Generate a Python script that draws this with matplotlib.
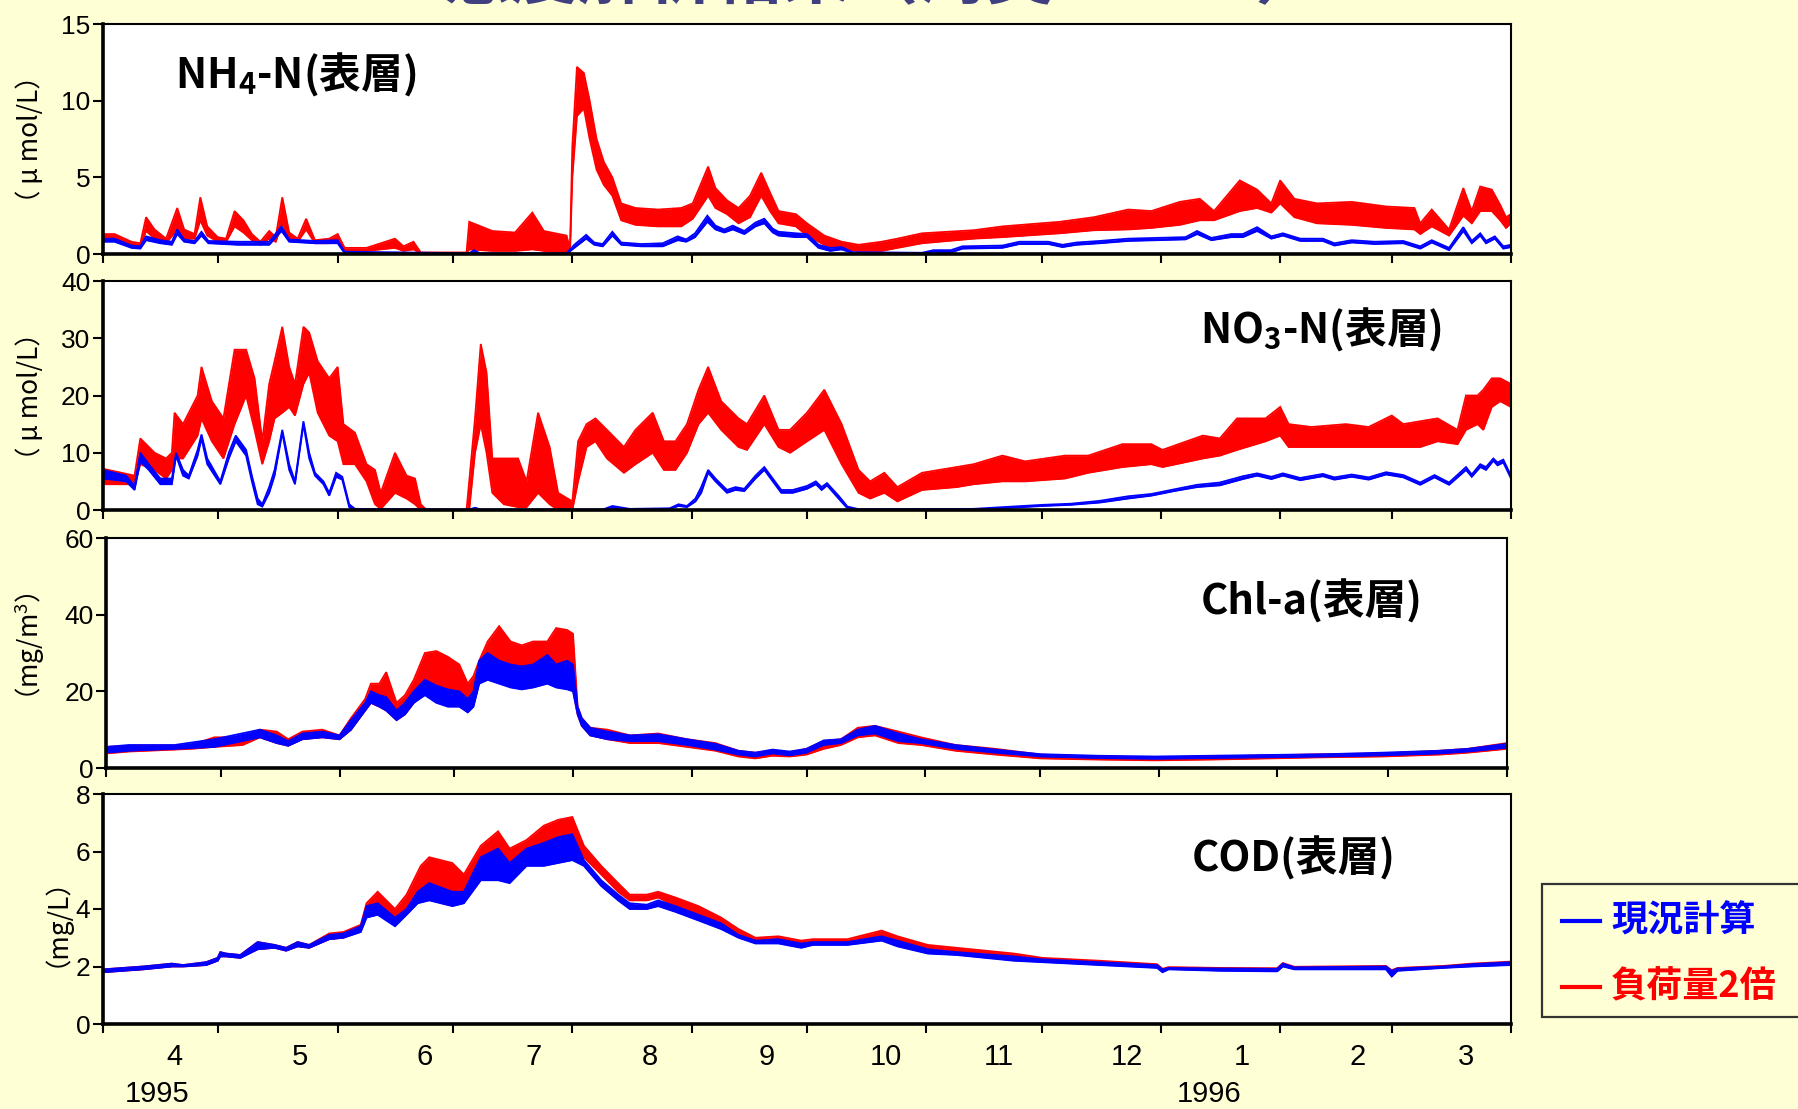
import matplotlib
matplotlib.use("Agg")
import matplotlib.pyplot as plt
from matplotlib.patches import Rectangle
from matplotlib.lines import Line2D
from matplotlib.transforms import blended_transform_factory

plt.rcParams['font.family'] = ['Liberation Sans', 'Noto Sans CJK JP', 'DejaVu Sans']
plt.rcParams['mathtext.default'] = 'regular'

W, H = 1798, 1109
BG = '#FFFFD5'
RED = '#FF0000'
BLUE = '#0000FF'

# days counted from 1995-04-01
month_ticks = [0, 30, 61, 91, 122, 153, 183, 214, 244, 275, 306, 335, 366]
month_label_pos = [18.5, 51.2, 83.7, 112, 142.2, 172.6, 203.5, 232.9, 266.2, 296.1, 326.2, 354.3]
month_labels = ['4', '5', '6', '7', '8', '9', '10', '11', '12', '1', '2', '3']
year_label_pos = [14.0, 287.5]
year_labels = ['1995', '1996']

title = '感度解析結果（湾奥・St.2）'
legend_labels = ['現況計算', '負荷量2倍']

# each row: (day, low, high) of the tidal band
nh4_now = [(0, 0.8, 1.0), (3.0, 0.8, 1.0), (7.4, 0.4, 0.55), (9.7, 0.35, 0.5), (11.2, 0.9, 1.15),
           (14.9, 0.7, 0.9), (17.9, 0.6, 0.8), (19.3, 1.3, 1.6), (21.1, 0.8, 0.95), (23.8, 0.7, 0.85),
           (25.6, 1.2, 1.45), (27.4, 0.7, 0.85), (35.0, 0.6, 0.8), (43.2, 0.6, 0.8), (46.4, 1.5, 1.8),
           (48.4, 0.8, 0.95), (55.1, 0.7, 0.85), (61.0, 0.7, 0.9), (62.8, 0.05, 0.15), (95.2, 0.0, 0.05),
           (96.4, 0.1, 0.25), (98.0, 0.0, 0.05), (120.5, 0.0, 0.05), (122.5, 0.4, 0.6), (125.6, 1.0, 1.25),
           (127.7, 0.6, 0.75), (129.9, 0.5, 0.65), (132.4, 1.2, 1.45), (134.7, 0.6, 0.75), (139.9, 0.5, 0.65),
           (145.5, 0.5, 0.7), (149.4, 0.9, 1.15), (151.6, 0.8, 0.95), (153.9, 1.1, 1.35), (157.1, 2.1, 2.5),
           (159.2, 1.6, 1.85), (161.5, 1.4, 1.6), (163.7, 1.6, 1.85), (166.7, 1.3, 1.5), (169.6, 1.8, 2.05),
           (171.9, 2.0, 2.3), (174.1, 1.4, 1.65), (175.6, 1.2, 1.45), (180.1, 1.1, 1.35), (183.0, 1.1, 1.3),
           (186.0, 0.4, 0.6), (189.0, 0.2, 0.4), (192.0, 0.3, 0.45), (194.9, 0.05, 0.12), (212.9, 0.0, 0.08),
           (215.9, 0.15, 0.25), (220.4, 0.1, 0.25), (223.4, 0.35, 0.5), (233.8, 0.4, 0.55), (238.2, 0.65, 0.8),
           (245.7, 0.65, 0.8), (249.4, 0.45, 0.6), (253.1, 0.6, 0.75), (259.1, 0.7, 0.85), (266.5, 0.85, 1.0),
           (274.0, 0.9, 1.05), (281.4, 0.95, 1.1), (284.4, 1.3, 1.5), (288.1, 0.9, 1.05), (293.3, 1.1, 1.3),
           (296.3, 1.1, 1.3), (300.0, 1.5, 1.75), (303.7, 1.0, 1.15), (306.7, 1.2, 1.35), (311.2, 0.85, 1.0),
           (317.1, 0.85, 1.0), (320.1, 0.55, 0.7), (324.6, 0.75, 0.9), (330.5, 0.65, 0.8), (338.0, 0.7, 0.85),
           (342.4, 0.35, 0.5), (345.4, 0.75, 0.9), (349.9, 0.25, 0.4), (353.6, 1.5, 1.75), (355.8, 0.7, 0.85),
           (358.0, 1.2, 1.35), (359.5, 0.7, 0.85), (361.8, 1.0, 1.15), (364.0, 0.35, 0.5), (366.0, 0.45, 0.6)]

nh4_x2 = [(0, 0.9, 1.3), (3.0, 0.9, 1.3), (7.4, 0.6, 0.8), (9.7, 0.5, 0.7), (11.2, 1.5, 2.4),
          (13.4, 1.0, 1.6), (16.4, 0.7, 1.0), (19.3, 1.6, 3.0), (21.1, 1.0, 1.6), (23.8, 1.0, 1.3),
          (25.3, 2.2, 3.7), (27.1, 1.2, 1.8), (29.8, 0.8, 1.1), (32.0, 0.8, 1.0), (34.2, 1.8, 2.8),
          (36.5, 1.4, 2.2), (38.7, 0.9, 1.3), (40.9, 0.6, 0.8), (43.2, 1.0, 1.5), (44.9, 0.8, 1.1),
          (46.6, 2.0, 3.7), (48.4, 1.0, 1.4), (50.6, 0.8, 1.0), (52.8, 1.6, 2.3), (55.1, 0.7, 0.9),
          (58.8, 0.7, 1.0), (61.0, 0.9, 1.3), (62.8, 0.2, 0.4), (68.5, 0.2, 0.4), (75.9, 0.4, 1.0),
          (78.1, 0.2, 0.5), (80.7, 0.3, 0.8), (82.6, 0.05, 0.1), (94.5, 0.05, 0.1), (95.2, 0.3, 2.1),
          (101.2, 0.2, 1.5), (107.1, 0.2, 1.4), (111.6, 0.3, 2.7), (114.6, 0.2, 1.5), (120.5, 0.1, 1.2),
          (121.4, 0.1, 0.3), (122.0, 5.0, 7.0), (123.2, 9.0, 12.2), (125.0, 9.5, 11.8), (126.5, 7.5, 10.0),
          (128.3, 5.5, 7.5), (130.2, 4.5, 6.0), (132.4, 3.8, 5.0), (134.7, 2.2, 3.3), (138.4, 1.9, 3.0),
          (144.3, 1.8, 2.9), (150.3, 1.8, 3.0), (153.3, 2.3, 3.3), (157.3, 3.8, 5.7), (159.2, 3.0, 4.3),
          (162.2, 2.6, 3.5), (165.2, 2.0, 3.0), (168.2, 2.4, 3.8), (171.1, 3.8, 5.3), (173.4, 2.8, 4.0),
          (175.6, 2.0, 2.8), (180.1, 1.8, 2.6), (183.0, 1.2, 2.0), (187.5, 0.6, 1.2), (192.0, 0.3, 0.8),
          (196.4, 0.2, 0.6), (202.4, 0.2, 0.8), (206.5, 0.4, 1.0), (212.9, 0.7, 1.35), (226.3, 1.0, 1.55),
          (233.8, 1.1, 1.8), (248.7, 1.35, 2.1), (257.6, 1.55, 2.4), (266.5, 1.6, 2.9), (272.5, 1.7, 2.8),
          (279.9, 1.9, 3.4), (285.1, 2.2, 3.6), (288.8, 2.2, 2.8), (295.5, 2.8, 4.8), (300.0, 3.0, 4.2),
          (303.7, 2.7, 3.3), (306.0, 3.3, 4.8), (309.7, 2.4, 3.6), (315.6, 2.0, 3.3), (324.6, 1.9, 3.4),
          (333.5, 1.7, 3.1), (340.9, 1.6, 3.0), (342.4, 1.3, 2.0), (345.4, 1.8, 2.9), (349.9, 1.2, 1.6),
          (353.6, 2.5, 4.3), (355.8, 2.0, 2.8), (358.0, 2.8, 4.4), (361.0, 2.8, 4.2), (363.2, 2.2, 3.2),
          (364.7, 1.7, 2.4), (366.0, 2.0, 2.6)]

no3_now = [(0, 5.5, 7.0), (6.0, 5.0, 6.0), (8.2, 3.5, 4.2), (9.7, 8.5, 10.0), (11.9, 7.0, 8.0),
           (14.9, 4.5, 5.5), (17.9, 4.5, 5.5), (19.0, 9.5, 10.0), (20.8, 6.0, 7.0), (22.3, 5.5, 6.0),
           (24.6, 9.5, 10.5), (25.6, 12.5, 13.2), (27.1, 8.0, 9.0), (30.5, 4.5, 5.0), (32.7, 9.0, 10.0),
           (34.5, 12.0, 13.0), (37.2, 9.5, 10.5), (38.7, 5.0, 6.0), (40.2, 1.0, 2.0), (41.4, 0.6, 1.0),
           (43.2, 3.0, 4.0), (44.6, 6.0, 7.0), (46.6, 13.5, 14.0), (48.4, 7.0, 8.0), (49.9, 4.5, 5.0),
           (52.1, 15.0, 15.5), (53.6, 9.0, 10.0), (55.1, 6.0, 6.5), (57.3, 4.5, 5.0), (58.8, 2.5, 3.0),
           (60.6, 5.8, 6.5), (62.2, 5.3, 5.8), (64.0, 0.5, 1.0), (65.5, 0.0, 0.2), (95.2, 0.0, 0.1),
           (96.7, 0.2, 0.4), (98.2, 0.0, 0.1), (130.0, 0.0, 0.1), (132.4, 0.4, 0.7), (136.9, 0.1, 0.2),
           (147.3, 0.2, 0.3), (149.6, 0.7, 1.0), (151.8, 0.5, 0.7), (154.0, 1.5, 2.0), (155.5, 3.0, 4.0),
           (157.3, 6.5, 7.0), (159.2, 5.0, 5.5), (162.2, 3.0, 3.5), (164.4, 3.5, 4.0), (166.7, 3.3, 3.7),
           (169.6, 5.5, 6.0), (171.9, 7.0, 7.5), (174.1, 5.0, 5.5), (176.3, 3.0, 3.5), (179.3, 3.0, 3.5),
           (183.0, 3.7, 4.2), (185.3, 4.5, 5.0), (186.8, 3.5, 4.0), (188.2, 4.3, 4.7), (191.2, 2.0, 2.5),
           (193.5, 0.3, 0.6), (196.4, 0.05, 0.15), (226.3, 0.1, 0.2), (233.8, 0.3, 0.5), (244.2, 0.7, 0.9),
           (251.6, 0.9, 1.1), (259.1, 1.3, 1.6), (266.5, 2.0, 2.4), (272.5, 2.5, 2.8), (278.4, 3.3, 3.6),
           (284.4, 4.0, 4.4), (290.3, 4.3, 4.8), (296.3, 5.4, 5.9), (300.0, 6.0, 6.4), (303.7, 5.4, 5.8),
           (306.7, 6.0, 6.4), (311.2, 5.2, 5.6), (317.1, 5.9, 6.3), (320.1, 5.3, 5.7), (324.6, 5.8, 6.2),
           (329.0, 5.3, 5.7), (333.5, 6.2, 6.6), (338.0, 5.7, 6.1), (342.4, 4.4, 4.8), (346.1, 5.7, 6.1),
           (349.9, 4.4, 4.8), (354.3, 7.0, 7.5), (355.8, 5.8, 6.2), (358.0, 7.5, 8.0), (359.5, 7.0, 7.5),
           (361.4, 8.6, 9.0), (362.5, 7.8, 8.3), (364.0, 8.3, 8.8), (366.0, 5.5, 6.0)]

no3_x2 = [(0, 4.5, 7.2), (8.2, 4.5, 6.0), (9.7, 8.0, 12.5), (13.4, 7.0, 10.0), (16.4, 5.5, 9.0),
          (17.9, 7.0, 10.0), (18.6, 9.0, 17.0), (20.8, 9.0, 15.0), (24.6, 13.0, 20.0), (25.6, 16.0, 25.0),
          (28.3, 12.0, 19.0), (31.3, 9.0, 16.0), (34.2, 15.0, 28.0), (37.2, 20.0, 28.0), (39.4, 14.0, 23.0),
          (41.4, 8.0, 12.0), (43.2, 12.0, 22.0), (44.6, 16.0, 26.0), (46.6, 17.0, 32.0), (48.4, 18.0, 25.0),
          (49.9, 16.5, 22.0), (52.1, 22.0, 32.0), (53.6, 24.0, 31.0), (55.8, 17.0, 26.0), (58.8, 13.0, 23.0),
          (61.0, 12.0, 25.0), (62.5, 8.0, 15.0), (65.5, 8.0, 13.5), (68.5, 5.0, 8.0), (70.7, 1.0, 7.0),
          (72.2, 0.2, 3.0), (75.9, 3.0, 10.0), (78.9, 2.0, 6.0), (81.1, 1.0, 5.5), (82.6, 0.0, 1.0),
          (84.1, 0.0, 0.0), (94.5, 0.0, 0.0), (95.2, 0.0, 5.0), (96.7, 10.0, 16.0), (98.2, 15.0, 29.0),
          (99.7, 10.0, 24.0), (101.2, 3.0, 9.0), (104.2, 1.0, 9.0), (107.9, 0.5, 9.0), (110.1, 0.5, 5.0),
          (113.1, 3.0, 17.0), (116.1, 1.0, 11.0), (118.3, 0.0, 3.0), (122.0, 0.0, 1.5), (123.5, 5.0, 12.0),
          (125.7, 11.0, 15.0), (128.0, 12.0, 16.0), (131.0, 9.0, 14.0), (135.4, 6.5, 11.0), (138.4, 8.0, 14.0),
          (142.9, 10.0, 17.0), (145.8, 7.0, 12.0), (148.8, 7.0, 12.0), (151.8, 10.0, 15.0), (154.8, 15.0, 21.0),
          (157.3, 17.0, 25.0), (160.7, 14.0, 19.0), (165.2, 11.0, 16.0), (167.4, 10.5, 15.0), (171.9, 15.0, 20.0),
          (175.6, 11.0, 14.0), (178.6, 10.0, 14.0), (183.0, 12.0, 17.0), (187.5, 14.0, 21.0), (192.0, 8.0, 15.0),
          (196.4, 3.0, 7.0), (199.4, 2.0, 5.0), (203.1, 3.0, 6.5), (206.5, 1.5, 4.0), (212.9, 3.5, 6.5),
          (221.9, 4.0, 7.5), (226.3, 4.5, 8.0), (233.8, 5.0, 9.5), (239.7, 5.0, 8.5), (250.1, 5.5, 9.5),
          (256.1, 6.5, 9.5), (265.0, 7.5, 11.5), (272.5, 8.0, 11.5), (275.4, 7.5, 10.5), (285.9, 9.0, 13.0),
          (290.3, 9.5, 12.5), (294.8, 10.5, 16.0), (302.2, 12.0, 16.0), (306.0, 13.0, 18.0), (308.2, 11.0, 15.0),
          (314.1, 11.0, 14.5), (323.1, 11.0, 15.0), (329.0, 11.0, 14.5), (335.0, 11.0, 16.5), (338.0, 11.0, 15.0),
          (342.4, 11.0, 15.5), (346.9, 12.0, 16.0), (352.1, 11.5, 14.0), (354.3, 14.0, 20.0), (357.3, 15.0, 20.0),
          (358.8, 14.0, 21.0), (361.0, 18.0, 23.0), (363.2, 19.0, 23.0), (366.0, 18.0, 22.0)]

chl_now = [(0, 4.0, 5.5), (6.0, 4.5, 6.0), (17.9, 5.0, 6.0), (28.3, 5.5, 7.5), (40.2, 8.0, 10.0),
           (44.6, 6.5, 8.5), (47.6, 5.8, 7.0), (51.3, 7.5, 9.0), (56.5, 8.0, 9.5), (61.0, 7.5, 8.5),
           (64.0, 10.0, 12.5), (67.7, 15.0, 17.0), (69.2, 17.0, 20.0), (71.4, 16.0, 19.0), (73.2, 15.0, 18.5),
           (75.9, 12.5, 15.0), (78.1, 14.0, 17.0), (80.4, 17.0, 20.0), (83.3, 19.0, 23.0), (86.3, 17.0, 21.5),
           (89.3, 16.0, 20.5), (92.3, 16.0, 20.0), (94.5, 14.5, 18.0), (96.0, 16.0, 20.0), (97.5, 22.0, 28.0),
           (99.7, 23.0, 30.0), (102.7, 22.0, 28.0), (105.7, 21.0, 27.0), (108.6, 20.5, 26.5), (111.6, 21.0, 27.0),
           (115.3, 22.0, 29.5), (117.6, 21.0, 27.0), (120.5, 20.5, 28.0), (122.0, 20.0, 27.0), (123.2, 14.0, 16.0),
           (124.3, 11.0, 13.0), (126.5, 8.5, 10.5), (131.0, 7.5, 9.5), (136.9, 7.0, 8.5), (144.3, 7.0, 8.8),
           (151.8, 6.0, 7.5), (159.2, 4.8, 6.3), (165.2, 3.5, 4.5), (169.6, 3.0, 4.0), (174.1, 3.8, 4.8),
           (178.6, 3.3, 4.3), (183.0, 4.0, 5.0), (187.5, 6.0, 7.2), (192.0, 6.5, 7.5), (196.4, 8.5, 10.0),
           (200.9, 9.0, 11.0), (207.0, 7.0, 9.0), (212.9, 6.5, 7.5), (221.9, 5.0, 6.0), (232.3, 4.0, 4.8),
           (244.2, 3.0, 3.6), (259.1, 2.6, 3.2), (274.0, 2.4, 3.0), (288.8, 2.6, 3.2), (303.7, 2.8, 3.4),
           (318.6, 3.0, 3.6), (333.5, 3.3, 4.0), (348.4, 3.8, 4.5), (355.8, 4.3, 5.0), (366.0, 5.3, 6.3)]

chl_x2 = [(0, 3.8, 5.5), (6.0, 4.3, 5.8), (17.9, 4.8, 5.8), (22.3, 5.0, 6.0), (28.3, 5.5, 8.0),
          (35.7, 6.0, 8.0), (40.2, 8.0, 10.0), (44.6, 6.5, 9.5), (47.6, 5.8, 7.5), (51.3, 7.5, 9.5),
          (56.5, 8.0, 10.0), (61.0, 7.5, 8.5), (64.0, 10.0, 13.0), (67.7, 15.0, 18.0), (69.2, 17.0, 22.0),
          (71.4, 16.0, 22.0), (73.2, 15.0, 25.0), (75.9, 12.5, 17.0), (78.1, 14.0, 19.0), (80.4, 17.0, 23.0),
          (83.3, 20.0, 30.0), (86.3, 18.0, 30.5), (89.3, 17.0, 29.0), (92.3, 16.5, 27.0), (94.5, 15.0, 22.0),
          (96.0, 16.5, 24.0), (97.5, 22.5, 28.0), (99.7, 23.5, 33.0), (102.7, 23.0, 37.0), (105.7, 21.5, 33.0),
          (108.6, 21.0, 32.0), (111.6, 22.0, 33.0), (115.3, 22.5, 33.0), (117.6, 22.0, 36.5), (120.5, 21.0, 36.0),
          (122.0, 20.5, 35.0), (123.2, 14.0, 16.0), (124.3, 11.0, 13.0), (126.5, 8.5, 10.5), (131.0, 7.5, 10.0),
          (136.9, 6.5, 8.5), (144.3, 6.5, 9.0), (151.8, 5.5, 7.5), (159.2, 4.5, 6.5), (165.2, 3.0, 4.5),
          (169.6, 2.5, 4.0), (174.1, 3.2, 4.5), (178.6, 3.0, 4.0), (183.0, 3.5, 5.0), (187.5, 5.0, 7.0),
          (192.0, 6.0, 7.5), (196.4, 8.0, 10.5), (200.9, 8.5, 11.0), (207.0, 6.5, 9.5), (212.9, 6.0, 8.0),
          (221.9, 4.5, 6.0), (232.3, 3.5, 5.0), (244.2, 2.5, 3.5), (259.1, 2.2, 3.0), (274.0, 2.0, 2.8),
          (288.8, 2.2, 3.0), (303.7, 2.5, 3.3), (318.6, 2.8, 3.6), (333.5, 3.0, 3.8), (348.4, 3.5, 4.5),
          (355.8, 4.0, 5.0), (366.0, 5.0, 6.5)]

cod_now = [(0, 1.8, 1.9), (10.4, 1.9, 2.0), (17.9, 2.0, 2.1), (20.8, 2.0, 2.05), (26.8, 2.05, 2.15),
           (29.8, 2.2, 2.3), (30.5, 2.35, 2.5), (32.0, 2.35, 2.45), (35.7, 2.3, 2.4), (40.2, 2.6, 2.85),
           (44.6, 2.65, 2.75), (47.6, 2.55, 2.65), (50.6, 2.7, 2.85), (53.6, 2.65, 2.75), (58.8, 2.95, 3.1),
           (62.5, 3.0, 3.15), (67.0, 3.2, 3.4), (68.5, 3.7, 4.1), (71.4, 3.8, 4.2), (75.9, 3.4, 3.7),
           (78.9, 3.8, 4.0), (81.8, 4.2, 4.6), (84.8, 4.3, 4.9), (90.8, 4.1, 4.6), (93.8, 4.2, 4.6),
           (98.2, 5.0, 5.8), (102.7, 5.0, 6.1), (105.7, 4.9, 5.6), (110.1, 5.5, 6.1), (114.6, 5.5, 6.3),
           (118.3, 5.6, 6.5), (122.0, 5.7, 6.6), (125.0, 5.5, 5.7), (129.5, 4.8, 5.0), (133.9, 4.3, 4.5),
           (136.9, 4.0, 4.2), (141.4, 4.0, 4.15), (144.3, 4.1, 4.3), (148.8, 3.9, 4.1), (154.8, 3.6, 3.8),
           (160.7, 3.3, 3.5), (165.2, 3.0, 3.1), (169.6, 2.8, 2.9), (175.6, 2.8, 2.95), (181.5, 2.65, 2.8),
           (184.5, 2.75, 2.85), (193.5, 2.75, 2.85), (202.4, 2.9, 3.05), (206.5, 2.7, 2.9), (214.4, 2.45, 2.6),
           (221.9, 2.4, 2.5), (236.8, 2.2, 2.35), (244.2, 2.15, 2.25), (259.1, 2.05, 2.15), (274.0, 1.95, 2.05),
           (275.4, 1.8, 1.9), (277.0, 1.9, 1.95), (290.3, 1.85, 1.93), (305.2, 1.83, 1.92), (306.7, 2.0, 2.1),
           (309.7, 1.9, 1.97), (333.5, 1.9, 2.0), (335.0, 1.65, 1.85), (336.5, 1.85, 1.93), (348.4, 1.95, 2.0),
           (355.8, 2.0, 2.08), (366.0, 2.05, 2.15)]

cod_x2 = [(0, 1.8, 1.9), (10.4, 1.9, 2.0), (17.9, 2.0, 2.1), (20.8, 2.0, 2.05), (26.8, 2.05, 2.15),
          (29.8, 2.2, 2.3), (30.5, 2.35, 2.5), (32.0, 2.35, 2.45), (35.7, 2.3, 2.4), (40.2, 2.6, 2.85),
          (44.6, 2.65, 2.75), (47.6, 2.55, 2.65), (50.6, 2.7, 2.85), (53.6, 2.65, 2.75), (58.8, 2.95, 3.15),
          (62.5, 3.0, 3.2), (67.0, 3.25, 3.45), (68.5, 3.8, 4.2), (71.4, 3.9, 4.6), (75.9, 3.5, 4.0),
          (78.9, 3.9, 4.5), (82.6, 4.5, 5.5), (84.8, 4.6, 5.8), (90.8, 4.5, 5.6), (93.8, 4.6, 5.2),
          (98.2, 5.3, 6.2), (102.7, 5.4, 6.7), (105.7, 5.2, 6.1), (110.1, 5.8, 6.4), (114.6, 5.9, 6.9),
          (118.3, 6.0, 7.1), (122.0, 6.0, 7.2), (125.0, 5.8, 6.2), (129.5, 5.2, 5.5), (133.9, 4.6, 4.9),
          (136.9, 4.3, 4.5), (141.4, 4.3, 4.5), (144.3, 4.4, 4.6), (148.8, 4.1, 4.4), (154.8, 3.8, 4.1),
          (160.7, 3.5, 3.7), (165.2, 3.1, 3.3), (169.6, 2.9, 3.0), (175.6, 2.9, 3.05), (181.5, 2.75, 2.9),
          (184.5, 2.85, 2.95), (193.5, 2.85, 2.95), (202.4, 3.0, 3.25), (206.5, 2.85, 3.05), (214.4, 2.55, 2.75),
          (221.9, 2.5, 2.65), (236.8, 2.3, 2.45), (244.2, 2.2, 2.3), (259.1, 2.1, 2.2), (274.0, 2.0, 2.08),
          (275.4, 1.85, 1.92), (277.0, 1.92, 1.98), (290.3, 1.88, 1.95), (305.2, 1.86, 1.94), (306.7, 2.02, 2.12),
          (309.7, 1.92, 1.99), (333.5, 1.92, 2.02), (335.0, 1.68, 1.87), (336.5, 1.87, 1.95), (348.4, 1.97, 2.02),
          (355.8, 2.02, 2.1), (366.0, 2.07, 2.17)]

panel_names = ['NH$_4$-N(表層)', 'NO$_3$-N(表層)', 'Chl-a(表層)', 'COD(表層)']
panel_units = ['（ μ mol/L）', '（ μ mol/L）', '（mg/m$^3$）', '（mg/L）']
panel_ymax = [15, 40, 60, 8]
panel_yticks = [[0, 5, 10, 15], [0, 10, 20, 30, 40], [0, 20, 40, 60], [0, 2, 4, 6, 8]]
panel_now = [nh4_now, no3_now, chl_now, cod_now]
panel_x2 = [nh4_x2, no3_x2, chl_x2, cod_x2]

# layout in pixels of the reference
axes_px = [(103, 24, 1511, 254), (103, 281, 1511, 510), (106, 538, 1507, 768), (103, 794, 1511, 1024)]
name_px = [(175, 88), (1200, 343), (1201, 615), (1192, 872)]
unit_px = [(30, 139), (30, 396), (30, 653), (42, 909)]


def fx(x):
    return x / W


def fy(y):
    return 1 - y / H


def band(ax, rows, color, lw, z):
    d = [r[0] for r in rows]
    lo = [r[1] for r in rows]
    hi = [r[2] for r in rows]
    ax.fill_between(d, lo, hi, color=color, lw=0, zorder=z)
    ax.plot(d, lo, color=color, lw=lw, solid_joinstyle='miter', zorder=z)
    ax.plot(d, hi, color=color, lw=lw, solid_joinstyle='miter', zorder=z)


fig = plt.figure(figsize=(W / 100, H / 100), dpi=100, facecolor=BG)

axes = []
for i in range(4):
    x0, y0, x1, y1 = axes_px[i]
    ax = fig.add_axes([fx(x0), fy(y1), (x1 - x0) / W, (y1 - y0) / H])
    ax.set_facecolor('white')
    band(ax, panel_x2[i], RED, 1.3, 2)
    band(ax, panel_now[i], BLUE, 1.3, 3)
    ax.set_xlim(0, 366)
    ax.set_ylim(0, panel_ymax[i])
    ax.set_yticks(panel_yticks[i])
    ax.set_xticks(month_ticks)
    ax.set_xticklabels([])
    ax.tick_params(axis='x', which='major', direction='out', length=6.5, width=1.5, color='black')
    ax.tick_params(axis='y', direction='out', length=7, width=1.5, pad=2, labelsize=19)
    for side in ['left', 'bottom']:
        ax.spines[side].set_linewidth(2.6)
    for side in ['top', 'right']:
        ax.spines[side].set_linewidth(1.5)
    for sp in ax.spines.values():
        sp.set_zorder(5)
    axes.append(ax)

    nx, ny = name_px[i]
    fig.text(fx(nx), fy(ny), panel_names[i], family='Noto Sans CJK JP', weight='bold',
             fontsize=30, ha='left', va='baseline')
    ux, uy = unit_px[i]
    fig.text(fx(ux), fy(uy), panel_units[i], family='Noto Sans CJK JP', fontsize=19,
             rotation=90, ha='center', va='center')

ax4 = axes[3]
ax4.set_xticks(month_label_pos, minor=True)
ax4.set_xticklabels(month_labels, minor=True)
ax4.tick_params(axis='x', which='minor', length=0, pad=14, labelsize=21)
trans = blended_transform_factory(ax4.transData, fig.transFigure)
for pos, lab in zip(year_label_pos, year_labels):
    ax4.text(pos, fy(1094), lab, transform=trans, ha='center', va='center', fontsize=21, clip_on=False)

# slide title, mostly above the visible area as in the source slide
fig.text(fx(443), fy(-2), title, family='Noto Sans CJK JP', weight='bold', fontsize=49,
         color='#404080', ha='left', va='baseline')

# legend box
fig.add_artist(Rectangle((fx(1542), fy(1017)), (1840 - 1542) / W, (1017 - 884) / H,
                         transform=fig.transFigure, facecolor=BG, edgecolor='#333333', lw=1.6, clip_on=False))
for (yy, col, lab) in [(921, BLUE, legend_labels[0]), (987, RED, legend_labels[1])]:
    fig.add_artist(Line2D([fx(1562), fx(1600)], [fy(yy), fy(yy)], transform=fig.transFigure, color=col, lw=3))
    fig.text(fx(1611), fy(yy), lab, family='Noto Sans CJK JP', weight='bold', fontsize=26,
             color=col, ha='left', va='center')

fig.savefig('out.png', dpi=100, facecolor=BG)
